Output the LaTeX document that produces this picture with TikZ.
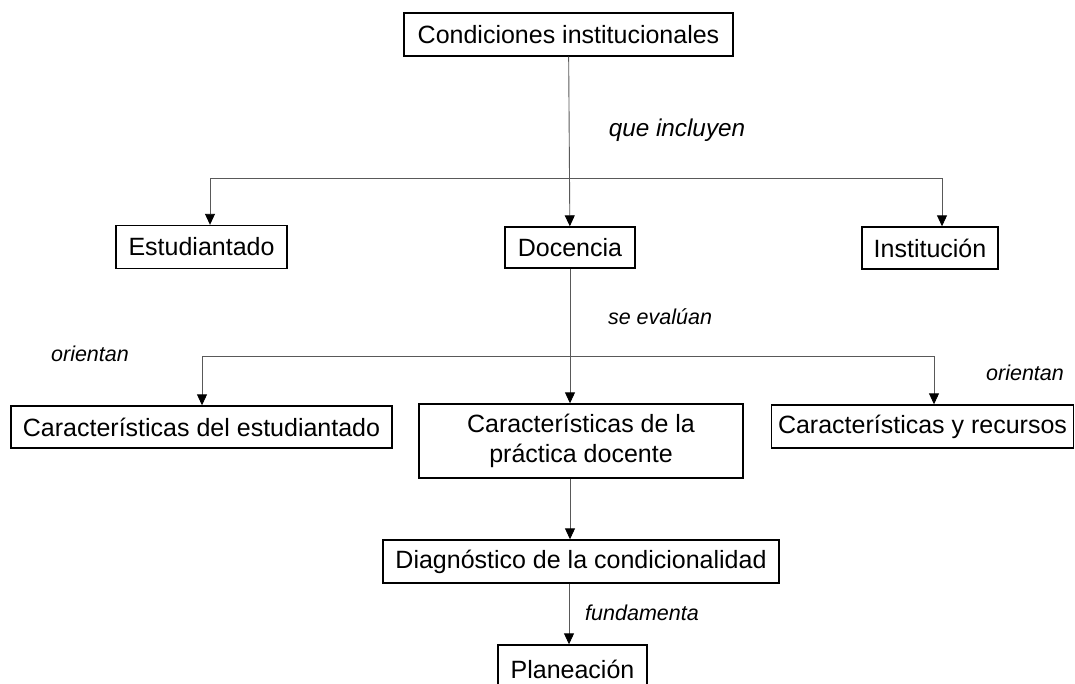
\documentclass[tikz,border=0pt]{standalone}
\usepackage{fontspec}
\setmainfont{Liberation Sans}
\usetikzlibrary{arrows.meta}
\tikzset{
  box/.style={draw=black, line width=1.4pt, inner sep=0pt, align=center,
    font=\fontsize{25}{30}\selectfont},
  lbl/.style={inner sep=0pt, font=\fontsize{21.5}{26}\selectfont\itshape},
  conn/.style={draw=black!65, line width=0.9pt},
  arr/.style={conn, -{Triangle[length=11pt,width=10pt,color=black]}}
}
\begin{document}
\begin{tikzpicture}[x=1pt,y=-1pt]
\useasboundingbox (0,0) rectangle (1075,683);
% boxes
\node[box, minimum width=329pt, minimum height=43pt] (cond) at (568.5,34.5) {Condiciones institucionales};
\node[box, minimum width=171pt, minimum height=43pt] (est) at (201.5,247) {Estudiantado};
\node[box, minimum width=130pt, minimum height=41pt] (doc) at (570,247.5) {Docencia};
\node[box, minimum width=136pt, minimum height=42pt] (inst) at (930,248) {Institución};
\node[box, minimum width=381pt, minimum height=42pt] (ce) at (201.5,427) {Características del estudiantado};
\node[box, minimum width=324pt, minimum height=74pt] (cp) at (581,441) {Características de la\\práctica docente};
\node[box, minimum width=302pt, minimum height=43pt] (cr) at (922.5,426.5) {Características y recursos};
\node[box, minimum width=396pt, minimum height=43pt] (diag) at (581,561.5) {Diagnóstico de la condicionalidad};
\node[box, minimum width=149pt, minimum height=48pt] (plan) at (572.5,669) {Planeación};
% labels
\node[lbl, font=\fontsize{24.3}{28}\selectfont\itshape] (l1) at (677,130) {que incluyen};
\node[lbl] (l2) at (660,317) {se evalúan};
\node[lbl] (l3) at (90,354) {orientan};
\node[lbl] (l4) at (1025,373) {orientan};
\node[lbl] (l5) at (642,613) {fundamenta};
% bars
\coordinate (b1L) at (210,178);
\coordinate (b1R) at (942,178);
\coordinate (b2L) at (202,356);
\coordinate (b2R) at (934,356);
\draw[conn] (b1L) -- (b1R);
\draw[conn] (b2L) -- (b2R);
% connectors
\draw[arr] (cond) -- (doc);
\draw[arr] (b1L) -- (b1L |- est.north);
\draw[arr] (b1R) -- (b1R |- inst.north);
\draw[arr] (doc.south) -- (doc.south |- cp.north);
\draw[arr] (b2L) -- (b2L |- ce.north);
\draw[arr] (b2R) -- (b2R |- cr.north);
\draw[arr] (doc.south |- cp.south) -- (doc.south |- diag.north);
\draw[arr] ([xshift=-1pt]doc.south |- diag.south) -- ([xshift=-1pt]doc.south |- plan.north);
\end{tikzpicture}
\end{document}
